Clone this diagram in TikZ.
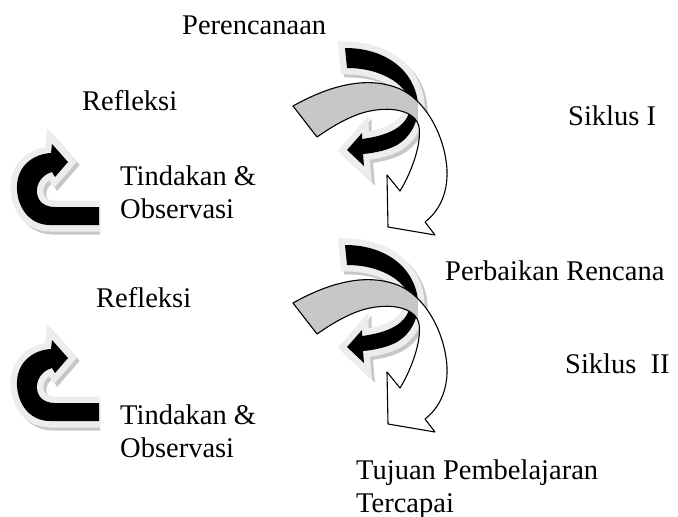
\documentclass[tikz,border=0pt]{standalone}
\usepackage{fontspec}
\setmainfont{Liberation Serif}
\usetikzlibrary{positioning}

% outlines of the shapes, in pixels of the page
\newcommand\uturnpath{(99,225) -- (50,225) .. controls (28,225) and (16,205) .. (17,185)
  .. controls (18,166) and (33,154) .. (51,153) -- (52,144) -- (68,162) -- (55,177) -- (52,172)
  .. controls (41,175) and (36,185) .. (37,193) .. controls (38,202) and (45,207) .. (55,207) -- (99,207) -- cycle}
\newcommand\arcpath{(345,48) .. controls (380,48) and (410,65) .. (417,97)
  .. controls (421,115) and (414,135) .. (397,145) .. controls (388,150) and (375,153) .. (363,154)
  -- (364,166) -- (347,150) -- (362,133) -- (362,139)
  .. controls (385,136) and (410,128) .. (410,105) .. controls (410,88) and (385,68) .. (347,68) -- cycle}
\newcommand\twistpath{(293,106) .. controls (325,88) and (365,74) .. (400,89)
  .. controls (425,100) and (445,135) .. (447,170) .. controls (448,195) and (438,212) .. (425,222)
  -- (435,235) -- (388,227) -- (387,175) -- (400,191)
  .. controls (410,175) and (422,145) .. (419,127) .. controls (416,112) and (395,106) .. (370,111)
  .. controls (350,115) and (330,128) .. (317,137) -- cycle}

\tikzset{
  lbl/.style={font=\fontsize{28.5}{33}\selectfont,inner sep=0pt,anchor=base west,align=left},
  halo/.style={draw=black!7,fill=black!7,line width=13pt},
  haloshade/.style={draw=black!22,fill=black!22,line width=13pt},
  ribbon/.style={draw=black,line width=1.1pt,line join=round},
  uturn/.pic={
    \begin{scope}
      \clip (0,100) rectangle (100,260);
      \path[haloshade,shift={(3,3)}] \uturnpath;
      \path[halo] \uturnpath;
    \end{scope}
    \fill[black] \uturnpath;
  },
  twist/.pic={
    \path[haloshade,shift={(3,3)}] \arcpath;
    \path[halo] \arcpath;
    \fill[black] \arcpath;
    \fill[white] \twistpath;
    \begin{scope}
      \clip \twistpath;
      \fill[black!22] (280,60) rectangle (418,150);
    \end{scope}
    \draw[ribbon] \twistpath;
  }
}

\begin{document}
\begin{tikzpicture}[x=1pt,y=-1pt]
  \fill[white] (0,0) rectangle (678,517);
  \useasboundingbox (0,0) rectangle (678,517);
  % cycle I
  \pic (turnA) at (0,0) {uturn};
  \pic (cycA) at (0,0) {twist};
  % cycle II
  \pic (turnB) at (0,196) {uturn};
  \pic (cycB) at (0,197) {twist};
  % labels (base = last line)
  \node[lbl] (plan) at (182,34) {Perencanaan};
  \node[lbl] (reflA) at (82,110) {Refleksi};
  \node[lbl] (sikA) at (568,125) {Siklus I};
  \node[lbl] (actA) at (120,218) {Tindakan \&\\Observasi};
  \node[lbl] (fix) at (445,280) {Perbaikan Rencana};
  \node[lbl] (reflB) at (96,307) {Refleksi};
  \node[lbl] (sikB) at (565,373) {Siklus\ \ II};
  \node[lbl] (actB) at (120,457) {Tindakan \&\\Observasi};
  \node[lbl] (goal) at (356,512) {Tujuan Pembelajaran\\Tercapai};
\end{tikzpicture}
\end{document}
